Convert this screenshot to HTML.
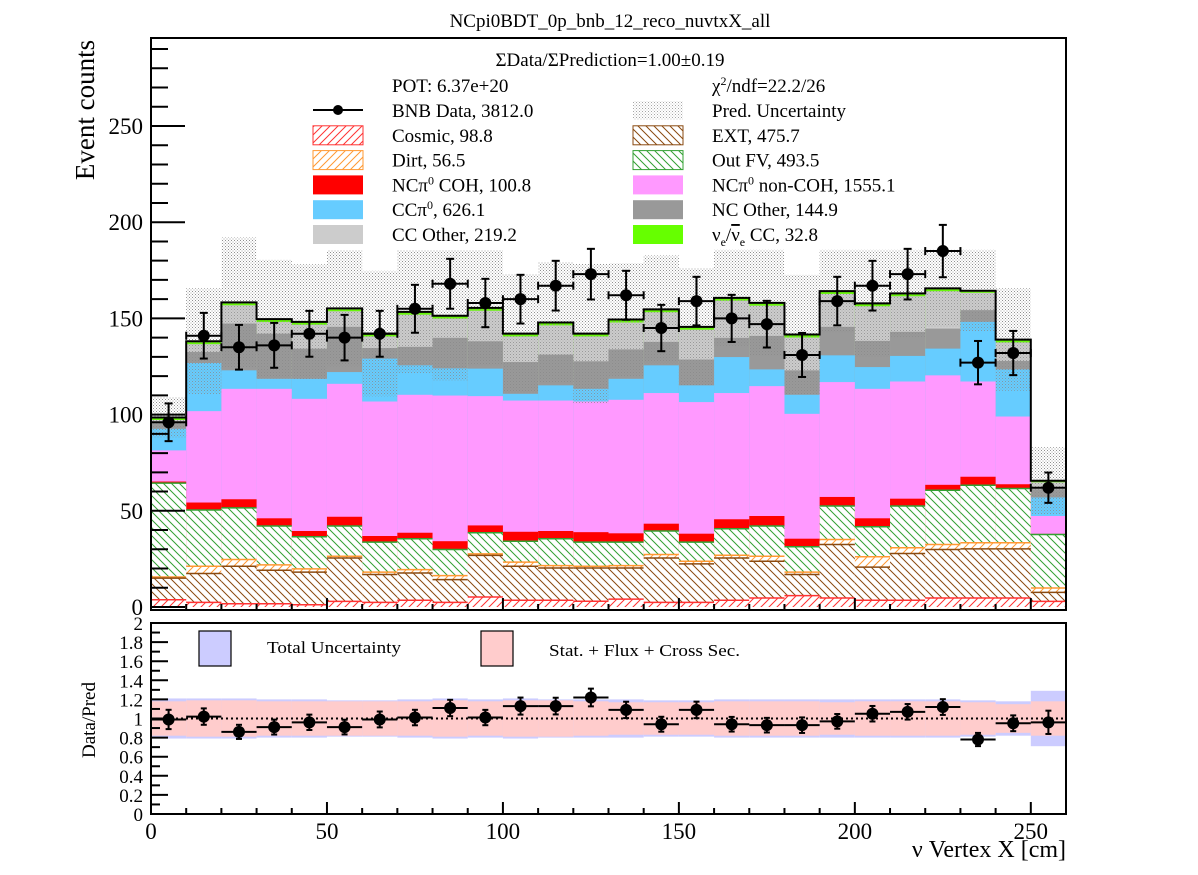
<!DOCTYPE html>
<html><head><meta charset="utf-8"><style>
body{margin:0;background:#fff;}
svg{display:block;font-family:"Liberation Serif",serif;}
</style></head><body>
<svg id="c" width="1198" height="875" viewBox="0 0 1198 875" xmlns="http://www.w3.org/2000/svg">
<defs>
<pattern id="hCos" width="8" height="8" patternUnits="userSpaceOnUse"><path d="M-2,10 L10,-2 M-2,2 L2,-2 M6,10 L10,6" stroke="#ff3333" stroke-width="1"/></pattern>
<pattern id="hDirt" width="8" height="8" patternUnits="userSpaceOnUse"><path d="M-2,10 L10,-2 M-2,2 L2,-2 M6,10 L10,6" stroke="#ff9933" stroke-width="1"/></pattern>
<pattern id="hExt" width="8" height="8" patternUnits="userSpaceOnUse"><path d="M-2,-2 L10,10 M-2,6 L2,10 M6,-2 L10,2" stroke="#8a4a10" stroke-width="1"/></pattern>
<pattern id="hFV" width="8" height="8" patternUnits="userSpaceOnUse"><path d="M-2,-2 L10,10 M-2,6 L2,10 M6,-2 L10,2" stroke="#33a033" stroke-width="1"/></pattern>
<pattern id="stip" width="3" height="3" patternUnits="userSpaceOnUse"><rect x="0" y="0" width="1" height="1" fill="#888" opacity="0.75"/><rect x="1.5" y="1.5" width="1" height="1" fill="#888" opacity="0.5"/></pattern>
</defs>
<g id="main"></g>
<g id="ratio"></g>
<text x="610" y="27" font-size="19" text-anchor="middle">NCpi0BDT_0p_bnb_12_reco_nuvtxX_all</text>
<text transform="translate(94,110) rotate(-90)" font-size="27" text-anchor="middle">Event counts</text>
<text transform="translate(95,720) rotate(-90)" font-size="19" text-anchor="middle">Data/Pred</text>
<text x="1066" y="857" font-size="24" text-anchor="end">ν Vertex X [cm]</text>
<g font-size="19">
<text x="610" y="66" text-anchor="middle">ΣData/ΣPrediction=1.00±0.19</text>
<text x="392" y="92">POT: 6.37e+20</text>
<text x="712" y="92">χ<tspan dy="-7" font-size="12">2</tspan><tspan dy="7">/ndf=22.2/26</tspan></text>
<g id="leg"></g>
</g>
<g font-size="17">
<rect x="199" y="631" width="32" height="35" fill="#ccccff" stroke="#000" stroke-width="1.2"/>
<text x="267" y="653" textLength="134" lengthAdjust="spacingAndGlyphs">Total Uncertainty</text>
<rect x="481" y="631" width="32" height="35" fill="#ffcccc" stroke="#000" stroke-width="1.2"/>
<text x="549" y="656" textLength="191" lengthAdjust="spacingAndGlyphs">Stat. + Flux + Cross Sec.</text>
</g>
</svg>
<script>
// ---- data ----
const binEdges=[0,10,20,30,40,50,60,70,80,90,100,110,120,130,140,150,160,170,180,190,200,210,220,230,240,250,260];
// cumulative tops per bin
const cosmic=[3.8,2.4,1.7,1.7,1.2,2.9,2.4,3.5,2.4,5.2,3.5,3.5,3.0,4.1,2.4,2.4,3.5,4.7,5.9,4.7,3.5,3.5,4.7,4.7,4.7,2.9];
const ext=[15,17.4,21.2,19.1,18.1,25.5,16.9,17.7,14.2,26.8,21.2,20.3,20.3,20.3,25.5,22.4,25.5,23.8,16.9,32.5,20.7,27.8,29.9,30.2,30.2,7.6];
const dirt=[15.6,21.2,24.7,21.9,19.8,26.4,18.1,19.4,16.3,27.6,23.3,21.5,21.2,21.5,27.3,23.8,26.9,26.4,18.1,35.1,26.1,30.8,32.5,33.4,33.4,9.9];
const outFV=[64.4,50.4,51.5,42.1,36.5,42.1,33.7,35.5,29.9,38.6,34.2,35.5,33.7,33.7,39.5,33.7,40.7,42.1,31.3,52.5,41.7,52.5,60.7,63.3,61.6,37.7];
const coh=[65.2,54.3,56,46.1,39.5,46.9,36.9,38.6,34.2,42.4,39.1,39.5,38.9,38.3,43.3,38.1,45.6,47.3,35.5,57.2,46.1,56.3,63.5,67.7,63.8,38.0];
const nonCoh=[81.4,101.8,113.4,113.4,108.2,116,106.8,110.3,109.9,109.6,107.3,107.3,106.8,107.7,111.2,106.5,111.2,114.8,100.4,116.9,113.4,117.2,120.4,117.2,99,47.3];
const ccPi0=[92.6,126.8,123,118.6,118.6,122.1,129.1,125.6,124,123.9,110.8,115.2,113.4,118.6,125.6,115.2,129.9,123.5,110.3,130.8,124.7,130.5,134.3,148.2,123.5,56.9];
const ncOther=[95.7,132.6,147.3,142.1,134.3,145.6,134.6,135.2,139.9,138.1,127.3,131.2,127.7,133.9,137.8,128.6,139.9,140.9,123,145.6,138.3,143,144.7,154.3,127.9,61.2];
const ccOther=[97.2,136.6,156.8,148.1,146.7,153.7,140.6,151.9,149.9,154,140.6,146.4,140.6,147.9,153.2,144.1,159.2,156.6,140.1,162.7,156.3,161.5,164.1,163.3,137.5,64.8];
const nue=[98.5,138.1,158.3,149.6,148.2,155.2,142.1,153.4,151.4,155.5,142.1,147.9,142.1,149.4,154.7,145.6,160.7,158.1,141.6,164.2,157.8,163,165.6,164.4,139,65.6];
const uncTop=[109,165.6,192,180.4,178.1,185.3,174.7,185.3,185.3,185.3,172.9,179.2,178.5,178.7,182.7,176.1,185.6,185.6,172.6,185.6,185.6,185.6,185.6,185.6,165.6,83];
const dataVals=[96,141,135,136,142,140,142,155,168,158,160,167,173,162,145,159,150,147,131,159,167,173,185,127,132,62];
const ratioVals=[0.99,1.02,0.86,0.91,0.96,0.91,0.99,1.01,1.11,1.01,1.13,1.13,1.22,1.09,0.94,1.09,0.94,0.93,0.93,0.97,1.05,1.07,1.12,0.78,0.95,0.96];
const totUnc=[0.21,0.21,0.21,0.20,0.20,0.19,0.19,0.20,0.21,0.20,0.21,0.20,0.20,0.20,0.19,0.19,0.20,0.20,0.20,0.20,0.20,0.20,0.20,0.19,0.18,0.29];
const sfxUnc=[0.18,0.19,0.19,0.18,0.18,0.18,0.18,0.18,0.19,0.18,0.19,0.19,0.18,0.17,0.17,0.17,0.18,0.18,0.18,0.17,0.18,0.18,0.18,0.17,0.15,0.18];
const yTicks=[0,50,100,150,200,250];
const xTicks=[0,50,100,150,200,250];
const rTicks=[0,0.2,0.4,0.6,0.8,1,1.2,1.4,1.6,1.8,2];

// ---- axes ----
const X0=151,X1=1066;
const xs=v=>X0+(v-0)/260*(X1-X0);
const YB=607, YT=38, ys=v=>YB-v*1.924;
const RB=814, RT=623, rs=v=>RB-v*95.5;
const NS='http://www.w3.org/2000/svg';
function mk(tag,attrs,parent){const e=document.createElementNS(NS,tag);for(const k in attrs)e.setAttribute(k,attrs[k]);parent.appendChild(e);return e;}
const main=document.getElementById('main'), ratio=document.getElementById('ratio');

const layers=[
 {arr:nue,fill:'#66ff00',name:'nue-cc'},
 {arr:ccOther,fill:'#cccccc',name:'cc-other'},
 {arr:ncOther,fill:'#999999',name:'nc-other'},
 {arr:ccPi0,fill:'#66ccff',name:'cc-pi0'},
 {arr:nonCoh,fill:'#ff99ff',name:'nc-pi0-non-coh'},
 {arr:coh,fill:'#ff0000',name:'nc-pi0-coh'},
 {arr:outFV,fill:'url(#hFV)',stroke:'#33a033',name:'out-fv'},
 {arr:dirt,fill:'url(#hDirt)',stroke:'#ff9933',name:'dirt'},
 {arr:ext,fill:'url(#hExt)',stroke:'#8a4a10',name:'ext'},
 {arr:cosmic,fill:'url(#hCos)',stroke:'#ff3333',name:'cosmic'}
];
for(let i=0;i<26;i++){
  const lo=2*nue[i]-uncTop[i];
  const r=mk('rect',{x:xs(binEdges[i]),y:ys(uncTop[i]),width:xs(binEdges[i+1])-xs(binEdges[i]),height:ys(Math.max(lo,0))-ys(uncTop[i]),fill:'url(#stip)'},main);
  
  
}
layers.forEach(L=>{
  for(let i=0;i<26;i++){
    const x=xs(binEdges[i]),w=xs(binEdges[i+1])-x;
    if(L.stroke) mk('rect',{x:x,y:ys(L.arr[i]),width:w,height:ys(0)-ys(L.arr[i]),fill:'#fff'},main);
    const r=mk('rect',{x:x,y:ys(L.arr[i]),width:w,height:ys(0)-ys(L.arr[i]),fill:L.fill},main);
    
    
    if(L.stroke) mk('line',{x1:x,x2:x+w,y1:ys(L.arr[i]),y2:ys(L.arr[i]),stroke:L.stroke,'stroke-width':1.5},main);
  }
});
for(let i=0;i<26;i++){
  const lo=Math.max(2*nue[i]-uncTop[i],0);
  mk('rect',{x:xs(binEdges[i]),y:ys(uncTop[i]),width:xs(binEdges[i+1])-xs(binEdges[i]),height:ys(lo)-ys(uncTop[i]),fill:'url(#stip)'},main);
}
let d='M'+xs(0)+','+ys(0);
for(let i=0;i<26;i++){d+=' L'+xs(binEdges[i])+','+ys(nue[i])+' L'+xs(binEdges[i+1])+','+ys(nue[i]);}
d+=' L'+xs(260)+','+ys(0);
const ol=mk('path',{d:d,fill:'none',stroke:'#000','stroke-width':2},main);


for(let i=0;i<26;i++){
  const cx=xs((binEdges[i]+binEdges[i+1])/2),v=dataVals[i],e=Math.sqrt(v);
  const g=mk('g',{stroke:'#000','stroke-width':2},main);
  
  
  mk('line',{x1:xs(binEdges[i]),x2:xs(binEdges[i+1]),y1:ys(v),y2:ys(v)},g);
  mk('line',{x1:cx,x2:cx,y1:ys(v+e),y2:ys(v-e)},g);
  mk('line',{x1:cx-4,x2:cx+4,y1:ys(v+e),y2:ys(v+e)},g);
  mk('line',{x1:cx-4,x2:cx+4,y1:ys(v-e),y2:ys(v-e)},g);
  mk('line',{x1:xs(binEdges[i]),x2:xs(binEdges[i]),y1:ys(v)-4,y2:ys(v)+4},g);
  mk('line',{x1:xs(binEdges[i+1]),x2:xs(binEdges[i+1]),y1:ys(v)-4,y2:ys(v)+4},g);
  mk('circle',{cx:cx,cy:ys(v),r:6,fill:'#000',stroke:'none'},g);
}
const fr=mk('rect',{x:X0,y:YT,width:X1-X0,height:610-YT,fill:'none',stroke:'#000','stroke-width':2},main);


for(let v=0;v<=290;v+=10){const big=v%50===0;mk('line',{x1:X0,x2:X0+(big?34:17),y1:ys(v),y2:ys(v),stroke:'#000','stroke-width':2},main);}
yTicks.forEach(v=>{const t=mk('text',{x:X0-8,y:ys(v)+8,'font-size':23,'text-anchor':'end'},main);t.textContent=v;
 
 });
for(let v=0;v<=260;v+=10){const big=v%50===0;mk('line',{x1:xs(v),x2:xs(v),y1:610,y2:610-(big?12:6),stroke:'#000','stroke-width':2},main);}

// ---- ratio pad ----
for(let i=0;i<26;i++){
  const x=xs(binEdges[i]),w=xs(binEdges[i+1])-x;
  const b=mk('rect',{x:x,y:rs(1+totUnc[i]),width:w,height:rs(1-totUnc[i])-rs(1+totUnc[i]),fill:'#ccccff'},ratio);
  
  
}
for(let i=0;i<26;i++){
  const x=xs(binEdges[i]),w=xs(binEdges[i+1])-x;
  const b=mk('rect',{x:x,y:rs(1+sfxUnc[i]),width:w,height:rs(1-sfxUnc[i])-rs(1+sfxUnc[i]),fill:'#ffcccc'},ratio);
  
  
}
mk('line',{x1:X0,x2:X1,y1:rs(1),y2:rs(1),stroke:'#000','stroke-width':2,'stroke-dasharray':'2,3'},ratio);
for(let i=0;i<26;i++){
  const cx=xs((binEdges[i]+binEdges[i+1])/2),v=ratioVals[i],e=v/Math.sqrt(dataVals[i]);
  const g=mk('g',{stroke:'#000','stroke-width':2},ratio);
  
  
  mk('line',{x1:xs(binEdges[i]),x2:xs(binEdges[i+1]),y1:rs(v),y2:rs(v)},g);
  mk('line',{x1:cx,x2:cx,y1:rs(v+e),y2:rs(v-e)},g);
  mk('line',{x1:cx-3,x2:cx+3,y1:rs(v+e),y2:rs(v+e)},g);
  mk('line',{x1:cx-3,x2:cx+3,y1:rs(v-e),y2:rs(v-e)},g);
  mk('circle',{cx:cx,cy:rs(v),r:6,fill:'#000',stroke:'none'},g);
}
const rf=mk('rect',{x:X0,y:RT,width:X1-X0,height:RB-RT,fill:'none',stroke:'#000','stroke-width':2},ratio);


for(let k=0;k<=20;k++){const v=k*0.1;const big=k%2===0;mk('line',{x1:X0,x2:X0+(big?17:9),y1:rs(v),y2:rs(v),stroke:'#000','stroke-width':2},ratio);}
rTicks.forEach(v=>{const t=mk('text',{x:X0-8,y:rs(v)+7,'font-size':19,'text-anchor':'end'},ratio);t.textContent=String(Math.round(v*10)/10);
 
 });
for(let v=0;v<=260;v+=10){const big=v%50===0;mk('line',{x1:xs(v),x2:xs(v),y1:RB,y2:RB-(big?12:6),stroke:'#000','stroke-width':2},ratio);}
xTicks.forEach(v=>{const t=mk('text',{x:xs(v),y:839,'font-size':23,'text-anchor':'middle'},ratio);t.textContent=v;
 
 });

// ---- legend ----
const leg=document.getElementById('leg');
const legItems=[
 [0,0,'data','BNB Data, 3812.0'],[1,0,'url(#stip)','Pred. Uncertainty'],
 [0,1,'url(#hCos)|#ff3333','Cosmic, 98.8'],[1,1,'url(#hExt)|#8a4a10','EXT, 475.7'],
 [0,2,'url(#hDirt)|#ff9933','Dirt, 56.5'],[1,2,'url(#hFV)|#33a033','Out FV, 493.5'],
 [0,3,'#ff0000','NCπ<tspan dy="-7" font-size="12">0</tspan><tspan dy="7"> COH,  100.8</tspan>'],[1,3,'#ff99ff','NCπ<tspan dy="-7" font-size="12">0</tspan><tspan dy="7"> non-COH,  1555.1</tspan>'],
 [0,4,'#66ccff','CCπ<tspan dy="-7" font-size="12">0</tspan><tspan dy="7">, 626.1</tspan>'],[1,4,'#999999','NC Other, 144.9'],
 [0,5,'#cccccc','CC Other, 219.2'],[1,5,'#66ff00','ν<tspan dy="5" font-size="12">e</tspan><tspan dy="-5">/</tspan><tspan text-decoration="overline">ν</tspan><tspan dy="5" font-size="12">e</tspan><tspan dy="-5"> CC, 32.8</tspan>']
];
legItems.forEach(it=>{
  const [c,r,f,label]=it;
  const sx=c?565:313, tx=c?712:392, cy=110+r*24.8;
  const g=mk('g',{},leg);
  
  
  if(f==='data'){
    mk('line',{x1:sx,x2:sx+50,y1:cy,y2:cy,stroke:'#000','stroke-width':2},g);
    mk('circle',{cx:sx+25,cy:cy,r:5,fill:'#000'},g);
  } else {
    const [fill,st]=f.split('|');
    const x=c?633:313;
    mk('rect',{x:x,y:cy-9,width:50,height:19,fill:fill,stroke:st||'none','stroke-width':1},g);
  }
  const t=mk('text',{x:tx,y:cy+7},g);
  t.innerHTML=label;
});
</script>
</body></html>
